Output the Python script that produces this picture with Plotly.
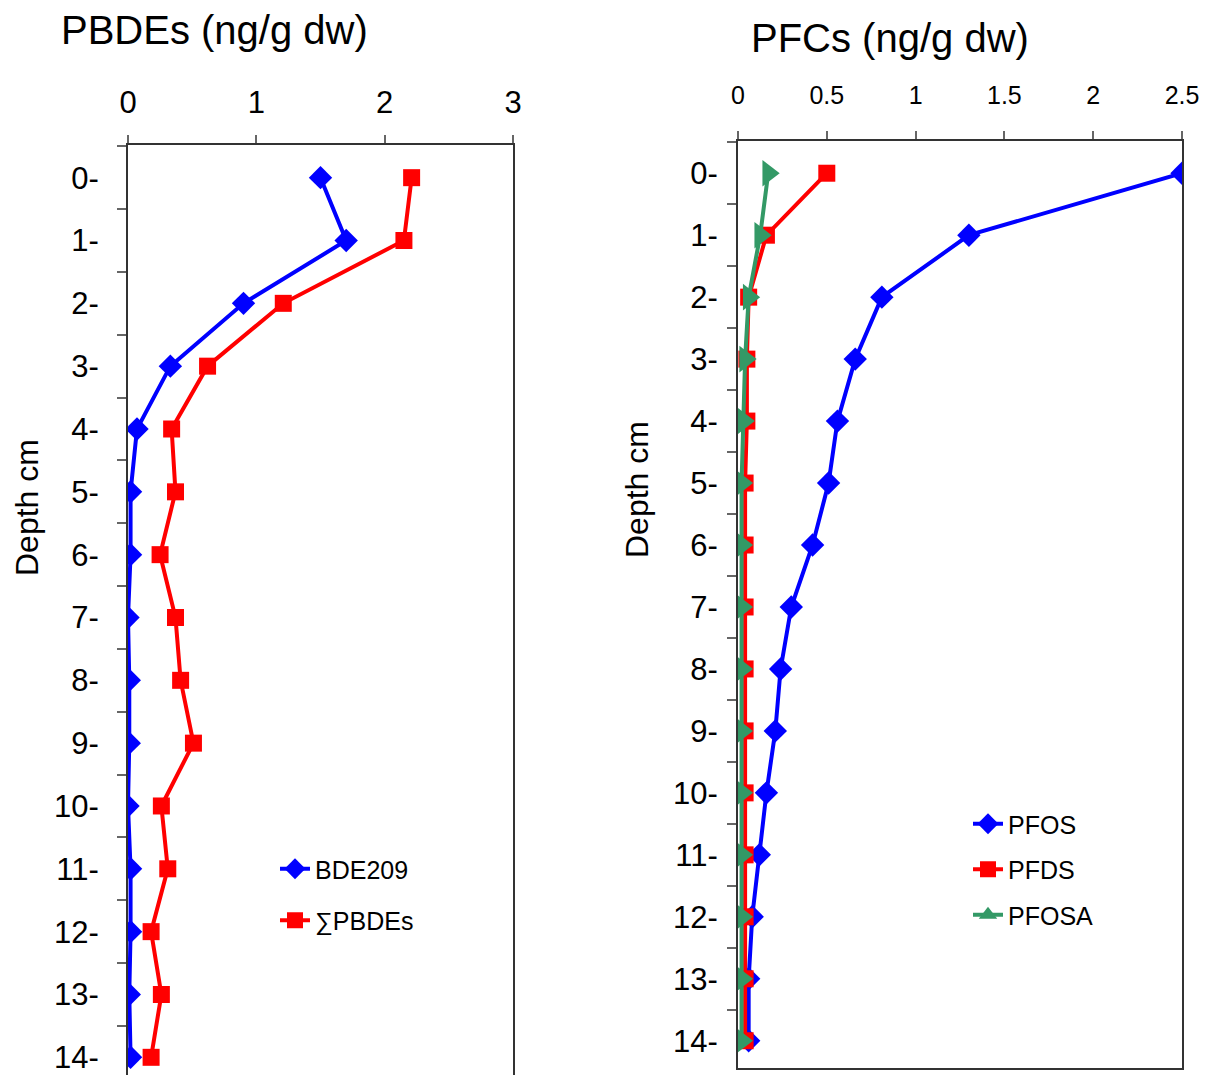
import plotly.graph_objects as go

depth = list(range(15))
depth_labels = [f"{d}-" for d in depth]

bde209 = [1.50, 1.70, 0.90, 0.33, 0.07, 0.02, 0.02, 0.00, 0.01, 0.01, 0.00, 0.02, 0.02, 0.01, 0.02]
sum_pbdes = [2.21, 2.15, 1.21, 0.62, 0.34, 0.37, 0.25, 0.37, 0.41, 0.51, 0.26, 0.31, 0.18, 0.26, 0.18]

pfos = [2.50, 1.30, 0.81, 0.66, 0.56, 0.51, 0.42, 0.30, 0.24, 0.21, 0.16, 0.12, 0.08, 0.06, 0.06]
pfds = [0.50, 0.16, 0.06, 0.05, 0.05, 0.04, 0.04, 0.04, 0.04, 0.04, 0.04, 0.04, 0.04, 0.04, 0.04]
pfosa = [0.17, 0.125, 0.06, 0.04, 0.03, 0.02, 0.02, 0.02, 0.02, 0.02, 0.02, 0.02, 0.02, 0.02, 0.02]

left_xticks = [0, 1, 2, 3]
right_xticks = [0, 0.5, 1, 1.5, 2, 2.5]
right_xticklabels = ["0", "0.5", "1", "1.5", "2", "2.5"]

FONT = "Liberation Sans, Arial, sans-serif"
BLUE = "#0000FF"
RED = "#FF0000"
GREEN = "#339966"
AX = "#333333"

# page has an 8px body margin; figure is 1200x1067
W, H, OFF = 1200, 1067, 8


def fx(p):
    return (p - OFF) / W


def fy(p):
    return 1 - (p - OFF) / H


fig = go.Figure()

# left panel
fig.add_trace(go.Scatter(x=bde209, y=depth, mode="lines+markers", name="BDE209",
                         line=dict(color=BLUE, width=4),
                         marker=dict(symbol="diamond", size=18, color=BLUE),
                         xaxis="x", yaxis="y", legend="legend", legendgroup="a"))
fig.add_trace(go.Scatter(x=sum_pbdes, y=depth, mode="lines+markers", name="∑PBDEs",
                         line=dict(color=RED, width=4),
                         marker=dict(symbol="square", size=17, color=RED),
                         xaxis="x", yaxis="y", legend="legend", legendgroup="b"))

# right panel
fig.add_trace(go.Scatter(x=pfos, y=depth, mode="lines+markers", name="PFOS",
                         line=dict(color=BLUE, width=4),
                         marker=dict(symbol="diamond", size=18, color=BLUE),
                         xaxis="x2", yaxis="y2", legend="legend2", legendgroup="c"))
fig.add_trace(go.Scatter(x=pfds, y=depth, mode="lines+markers", name="PFDS",
                         line=dict(color=RED, width=4),
                         marker=dict(symbol="square", size=17, color=RED),
                         xaxis="x2", yaxis="y2", legend="legend2", legendgroup="d"))
fig.add_trace(go.Scatter(x=pfosa, y=depth, mode="lines+markers", name="PFOSA",
                         line=dict(color=GREEN, width=4),
                         marker=dict(symbol="triangle-right", size=23, color=GREEN),
                         xaxis="x2", yaxis="y2", showlegend=False, legendgroup="e"))
# legend entry for PFOSA (legend shows upward triangle)
fig.add_trace(go.Scatter(x=[None], y=[None], mode="lines+markers", name="PFOSA",
                         line=dict(color=GREEN, width=4),
                         marker=dict(symbol="triangle-up", size=19, color=GREEN),
                         xaxis="x2", yaxis="y2", legend="legend2", legendgroup="e"))

minor_vals = [i + 0.5 for i in range(-1, 15)]


def yaxis_common(domain, rng, anchor, standoff):
    return dict(domain=domain, range=rng, anchor=anchor, tickvals=depth, ticktext=depth_labels,
                ticks="", showline=True, linecolor=AX, linewidth=2, mirror=True,
                showgrid=False, zeroline=False, automargin=False, ticklabelstandoff=standoff,
                ticklabeloverflow="allow",
                tickfont=dict(family=FONT, size=31, color="#000"),
                minor=dict(tickvals=minor_vals, ticks="outside", ticklen=9,
                           tickcolor="#666", tickwidth=2, showgrid=False))


fig.update_layout(
    width=W, height=H,
    margin=dict(l=0, r=0, t=0, b=0, autoexpand=False),
    paper_bgcolor="white", plot_bgcolor="white",
    xaxis=dict(domain=[fx(128), fx(513)], range=[0, 3], side="top", anchor="y",
               tickvals=left_xticks, ticks="outside", ticklen=8, tickcolor="#666", tickwidth=2,
               showline=True, linecolor=AX, linewidth=2, mirror=False, automargin=False,
               showgrid=False, zeroline=False, ticklabelstandoff=10, ticklabeloverflow="allow",
               tickfont=dict(family=FONT, size=31, color="#000")),
    yaxis=yaxis_common([0, fy(145)], [14.41 - 8 / 62.3, -0.52], "x", 21),
    xaxis2=dict(domain=[fx(738), fx(1182)], range=[0, 2.5], side="top", anchor="y2",
                tickvals=right_xticks, ticktext=right_xticklabels,
                ticks="outside", ticklen=8, tickcolor="#666", tickwidth=2,
                showline=True, linecolor=AX, linewidth=2, mirror=True, automargin=False,
                showgrid=False, zeroline=False, ticklabelstandoff=17, ticklabeloverflow="allow",
                tickfont=dict(family=FONT, size=25, color="#000")),
    yaxis2=yaxis_common([fy(1068), fy(141)], [14.44, -0.52], "x2", 12),
    legend=dict(x=fx(275), y=fy(846), xanchor="left", yanchor="top",
                bgcolor="rgba(0,0,0,0)", font=dict(family=FONT, size=25, color="#000"),
                tracegroupgap=16, itemsizing="trace"),
    legend2=dict(x=fx(968), y=fy(801), xanchor="left", yanchor="top",
                 bgcolor="rgba(0,0,0,0)", font=dict(family=FONT, size=25, color="#000"),
                 tracegroupgap=10, itemsizing="trace"),
    annotations=[
        dict(text="PBDEs (ng/g dw)", x=fx(215), y=fy(30), xref="paper", yref="paper",
             showarrow=False, font=dict(family=FONT, size=40, color="#000"),
             xanchor="center", yanchor="middle"),
        dict(text="PFCs (ng/g dw)", x=fx(890), y=fy(38), xref="paper", yref="paper",
             showarrow=False, font=dict(family=FONT, size=40, color="#000"),
             xanchor="center", yanchor="middle"),
        dict(text="Depth cm", x=fx(27), y=fy(508), xref="paper", yref="paper",
             showarrow=False, textangle=-90, font=dict(family=FONT, size=32, color="#000"),
             xanchor="center", yanchor="middle"),
        dict(text="Depth cm", x=fx(637), y=fy(490), xref="paper", yref="paper",
             showarrow=False, textangle=-90, font=dict(family=FONT, size=32, color="#000"),
             xanchor="center", yanchor="middle"),
    ],
)

fig.write_html("out.html")
